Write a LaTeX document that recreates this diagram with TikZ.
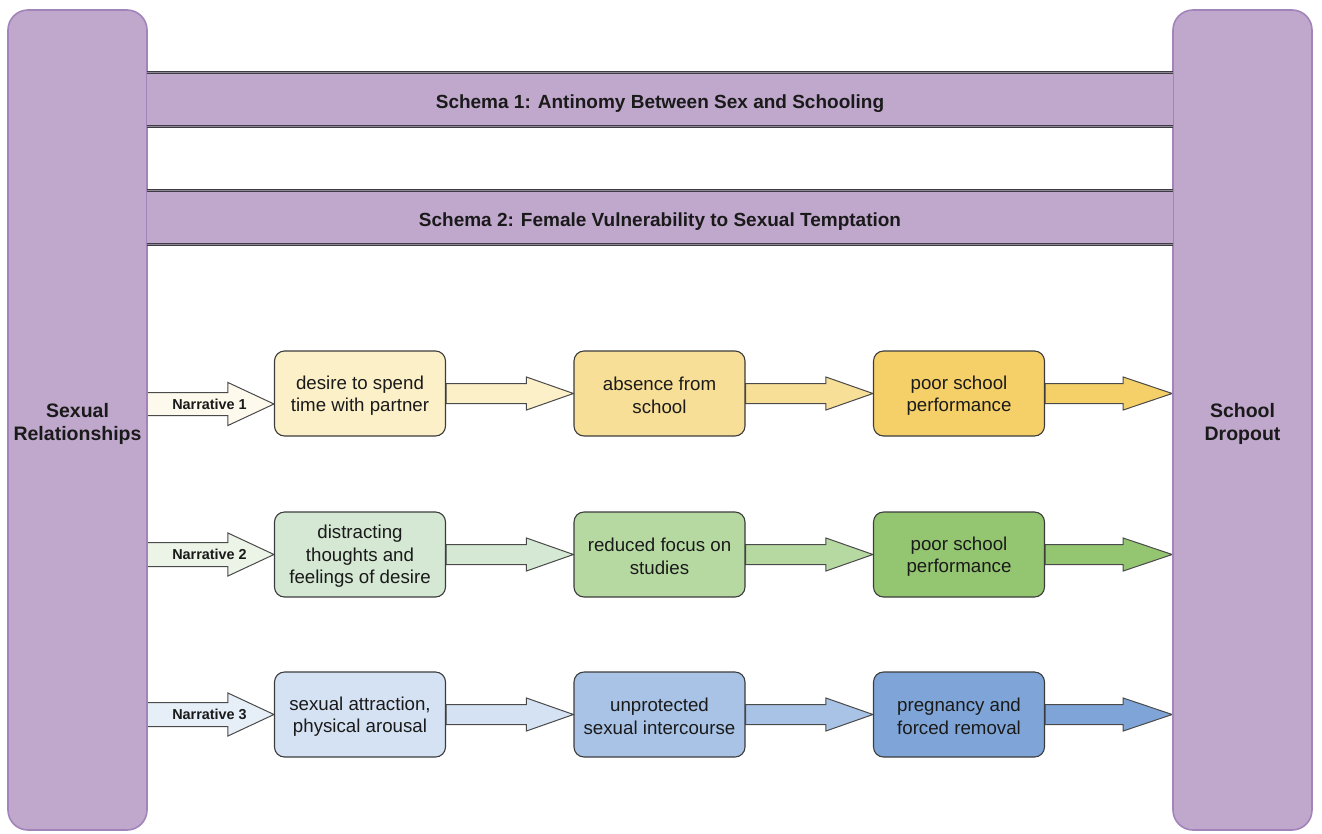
\documentclass[tikz,border=0pt]{standalone}
\usepackage{fontspec}
\setmainfont{Liberation Sans}
\usetikzlibrary{calc,backgrounds}
\definecolor{pfill}{HTML}{C0A8CD}
\definecolor{pline}{HTML}{A283BA}
\definecolor{bandln}{HTML}{403C46}
\definecolor{bandmid}{HTML}{8E8796}
\definecolor{txt}{HTML}{1A1A1A}
\definecolor{boxln}{HTML}{3C3C3C}
\definecolor{arrln}{HTML}{4A4A4A}
\definecolor{yN}{HTML}{FDF9EC}
\definecolor{yA}{HTML}{FCF0C8}
\definecolor{yB}{HTML}{F8DF98}
\definecolor{yC}{HTML}{F5D068}
\definecolor{gN}{HTML}{EBF4E7}
\definecolor{gA}{HTML}{D5E8D4}
\definecolor{gB}{HTML}{B6D9A2}
\definecolor{gC}{HTML}{94C571}
\definecolor{bN}{HTML}{E6EEF8}
\definecolor{bA}{HTML}{D5E2F4}
\definecolor{bB}{HTML}{A9C3E6}
\definecolor{bC}{HTML}{7FA5D8}
\newcommand\pstrut{\rule{0pt}{22pt}}
\newcommand\bstrut{\rule{0pt}{17.4pt}}
\tikzset{
  pillar/.style={draw=pline, line width=1.6pt, fill=pfill, rounded corners=20pt,
    minimum width=139pt, minimum height=820pt, inner sep=0pt, align=center,
    text=txt, font=\fontsize{19.5}{23}\selectfont\bfseries},
  band/.style={fill=pfill, minimum width=1026pt, minimum height=53pt, inner sep=0pt,
    text height=17pt, text depth=0pt,
    text=txt, font=\fontsize{19}{22}\selectfont\bfseries},
  bandline/.style={draw=bandln, line width=1.3pt, double=bandmid, double distance=0.7pt},
  flowbox/.style={draw=boxln, line width=1.1pt, rounded corners=10pt,
    minimum width=171pt, minimum height=85pt, inner sep=2pt, align=center,
    text=txt, font=\fontsize{18.7}{22.5}\selectfont},
  arrowline/.style={draw=arrln, line width=1pt, line join=miter},
  narrlabel/.style={text=txt, font=\fontsize{14.4}{17}\selectfont\bfseries, inner sep=0pt}
}
% block arrow: from, to, fill, shaft half height, head half height, head length
\newcommand\blockarrow[6]{%
  \draw[arrowline, fill=#3]
    ($(#1)+(0,-#4)$) -- ($(#2)+(-#6,-#4)$) -- ($(#2)+(-#6,-#5)$) -- (#2)
    -- ($(#2)+(-#6,#5)$) -- ($(#2)+(-#6,#4)$) -- ($(#1)+(0,#4)$) -- cycle;}
\begin{document}
\begin{tikzpicture}[x=1pt,y=-1pt]
\useasboundingbox (0,0) rectangle (1322,833);

% pillars
\node[pillar] (left) at (77.5,420) {\pstrut Sexual\\Relationships};
\node[pillar] (right) at (1242.5,420) {\pstrut School\\Dropout};

% schema bands
\node[band] (s1) at (660,99.5) {Schema 1: Antinomy Between Sex and Schooling};
\node[band] (s2) at (660,217.5) {Schema 2: Female Vulnerability to Sexual Temptation};
\draw[bandline] (s1.north west) -- (s1.north east);
\draw[bandline] (s1.south west) -- (s1.south east);
\draw[bandline] (s2.north west) -- (s2.north east);
\draw[bandline] (s2.south west) -- (s2.south east);

% row 1
\node[flowbox, fill=yA] (a1) at (360,393.5) {\bstrut desire to spend\\time with partner};
\node[flowbox, fill=yB] (a2) at (659.5,393.5) {\bstrut absence from\\school};
\node[flowbox, fill=yC] (a3) at (959,393.5) {\bstrut poor school\\performance};
% row 2
\node[flowbox, fill=gA] (b1) at (360,554.5) {\bstrut distracting\\thoughts and\\feelings of desire};
\node[flowbox, fill=gB] (b2) at (659.5,554.5) {\bstrut reduced focus on\\studies};
\node[flowbox, fill=gC] (b3) at (959,554.5) {\bstrut poor school\\performance};
% row 3
\node[flowbox, fill=bA] (c1) at (360,714.5) {\bstrut sexual attraction,\\physical arousal};
\node[flowbox, fill=bB] (c2) at (659.5,714.5) {\bstrut unprotected\\sexual intercourse};
\node[flowbox, fill=bC] (c3) at (959,714.5) {\bstrut pregnancy and\\forced removal};

% arrow end points
\coordinate (n1s) at (147,404);
\coordinate (n1e) at (a1.west |- n1s);
\coordinate (n2s) at (147,554.5);
\coordinate (n2e) at (b1.west |- n2s);
\coordinate (n3s) at (147,714.5);
\coordinate (n3e) at (c1.west |- n3s);
\coordinate (e1) at (right.west |- a3.east);
\coordinate (e2) at (right.west |- b3.east);
\coordinate (e3) at (right.west |- c3.east);

\begin{scope}[on background layer]
\blockarrow{n1s}{n1e}{yN}{11.5}{21.5}{46}
\blockarrow{n2s}{n2e}{gN}{12}{21.5}{46}
\blockarrow{n3s}{n3e}{bN}{12}{21.5}{46}
\blockarrow{a1.east}{a2.west}{yA}{10}{16.5}{47}
\blockarrow{a2.east}{a3.west}{yB}{10}{16.5}{47}
\blockarrow{a3.east}{e1}{yC}{10}{16.5}{49}
\blockarrow{b1.east}{b2.west}{gA}{10}{16.5}{47}
\blockarrow{b2.east}{b3.west}{gB}{10}{16.5}{47}
\blockarrow{b3.east}{e2}{gC}{10}{16.5}{49}
\blockarrow{c1.east}{c2.west}{bA}{10}{16.5}{47}
\blockarrow{c2.east}{c3.west}{bB}{10}{16.5}{47}
\blockarrow{c3.east}{e3}{bC}{10}{16.5}{49}
\end{scope}

\node[narrlabel] (l1) at (209.5,404) {Narrative 1};
\node[narrlabel] (l2) at (209.5,554.5) {Narrative 2};
\node[narrlabel] (l3) at (209.5,714.5) {Narrative 3};
\end{tikzpicture}
\end{document}
